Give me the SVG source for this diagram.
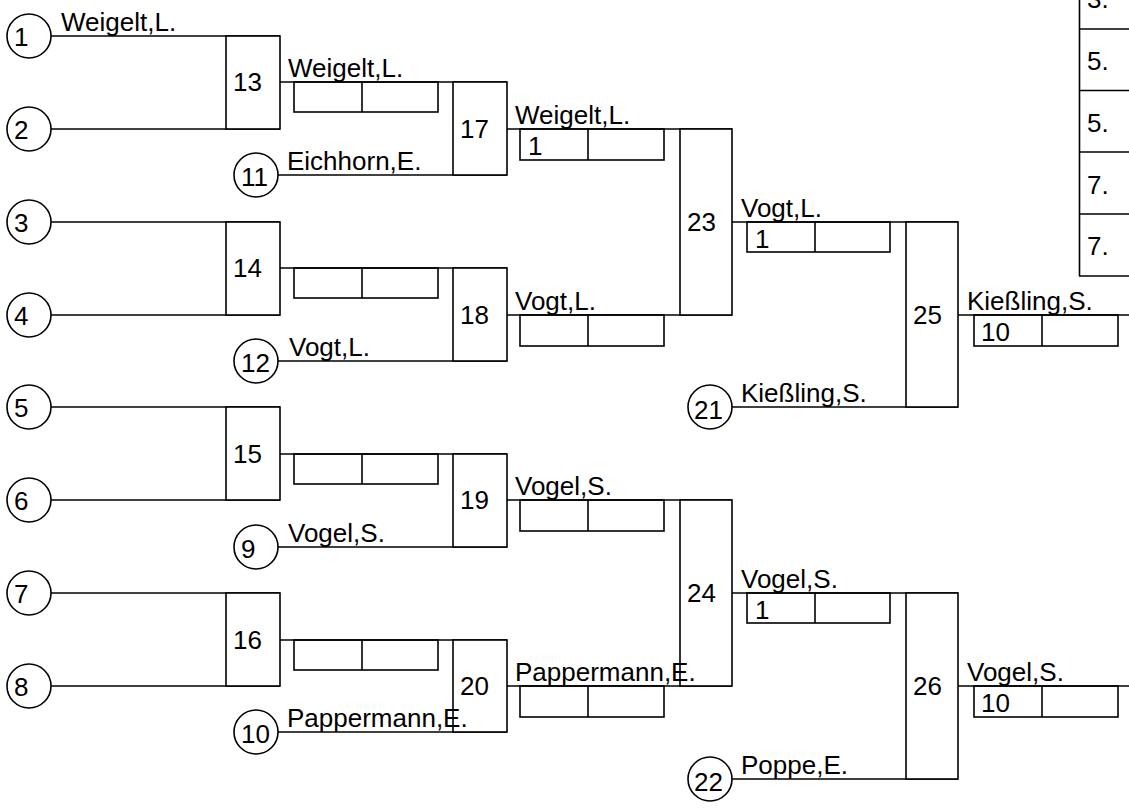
<svg xmlns="http://www.w3.org/2000/svg" width="1129" height="809" viewBox="0 0 1129 809">
<style>
  .ln { stroke: #000; stroke-width: 1.6; fill: none; }
  .bx { stroke: #000; stroke-width: 1.6; fill: #fff; }
  .sc { stroke: #000; stroke-width: 1.6; fill: none; }
  text { font-family: "Liberation Sans", Arial, sans-serif; font-size: 26px; fill: #000; }
</style>
<rect x="0" y="0" width="1129" height="809" fill="#fff"/>

<g id="connectors" class="ln">
  <!-- round 1 entry lines -->
  <line x1="51" y1="36" x2="280" y2="36"/>
  <line x1="51" y1="129" x2="280" y2="129"/>
  <line x1="51" y1="222" x2="280" y2="222"/>
  <line x1="51" y1="315" x2="280" y2="315"/>
  <line x1="51" y1="407" x2="280" y2="407"/>
  <line x1="51" y1="500" x2="280" y2="500"/>
  <line x1="51" y1="593" x2="280" y2="593"/>
  <line x1="51" y1="686" x2="280" y2="686"/>
  <!-- round 1 winners -->
  <line x1="280" y1="82" x2="507" y2="82"/>
  <line x1="280" y1="268" x2="507" y2="268"/>
  <line x1="280" y1="454" x2="507" y2="454"/>
  <line x1="280" y1="640" x2="507" y2="640"/>
  <!-- seeded entries round 2 -->
  <line x1="278" y1="175" x2="507" y2="175"/>
  <line x1="278" y1="361" x2="507" y2="361"/>
  <line x1="278" y1="547" x2="507" y2="547"/>
  <line x1="278" y1="732" x2="507" y2="732"/>
  <!-- round 2 winners -->
  <line x1="507" y1="129" x2="732" y2="129"/>
  <line x1="507" y1="315" x2="732" y2="315"/>
  <line x1="507" y1="500" x2="732" y2="500"/>
  <line x1="507" y1="686" x2="732" y2="686"/>
  <!-- round 3 winners -->
  <line x1="732" y1="222" x2="958" y2="222"/>
  <line x1="732" y1="593" x2="958" y2="593"/>
  <!-- seeded entries round 4 -->
  <line x1="732" y1="407" x2="958" y2="407"/>
  <line x1="732" y1="779" x2="958" y2="779"/>
  <!-- round 4 winners -->
  <line x1="958" y1="315" x2="1129" y2="315"/>
  <line x1="958" y1="686" x2="1129" y2="686"/>
</g>

<g id="seeds">
  <g id="seed-1"><circle class="bx" cx="29" cy="36" r="22"/><text x="14" y="46">1</text></g>
  <g id="seed-2"><circle class="bx" cx="29" cy="129" r="22"/><text x="14" y="139">2</text></g>
  <g id="seed-3"><circle class="bx" cx="29" cy="222" r="22"/><text x="14" y="232">3</text></g>
  <g id="seed-4"><circle class="bx" cx="29" cy="315" r="22"/><text x="14" y="325">4</text></g>
  <g id="seed-5"><circle class="bx" cx="29" cy="407" r="22"/><text x="14" y="417">5</text></g>
  <g id="seed-6"><circle class="bx" cx="29" cy="500" r="22"/><text x="14" y="510">6</text></g>
  <g id="seed-7"><circle class="bx" cx="29" cy="593" r="22"/><text x="14" y="603">7</text></g>
  <g id="seed-8"><circle class="bx" cx="29" cy="686" r="22"/><text x="14" y="696">8</text></g>
  <g id="seed-11"><circle class="bx" cx="256" cy="175" r="22"/><text x="241" y="186">11</text></g>
  <g id="seed-12"><circle class="bx" cx="256" cy="361" r="22"/><text x="241" y="372">12</text></g>
  <g id="seed-9"><circle class="bx" cx="256" cy="547" r="22"/><text x="241" y="558">9</text></g>
  <g id="seed-10"><circle class="bx" cx="256" cy="732" r="22"/><text x="241" y="743">10</text></g>
  <g id="seed-21"><circle class="bx" cx="710" cy="407" r="22"/><text x="694" y="419">21</text></g>
  <g id="seed-22"><circle class="bx" cx="710" cy="779" r="22"/><text x="694" y="791">22</text></g>
</g>

<g id="matches">
  <g id="match-13"><rect class="bx" x="226" y="36" width="54" height="93"/><text x="233" y="91">13</text></g>
  <g id="match-14"><rect class="bx" x="226" y="222" width="54" height="93"/><text x="233" y="277">14</text></g>
  <g id="match-15"><rect class="bx" x="226" y="407" width="54" height="93"/><text x="233" y="463">15</text></g>
  <g id="match-16"><rect class="bx" x="226" y="593" width="54" height="93"/><text x="233" y="649">16</text></g>
  <g id="match-17"><rect class="bx" x="453" y="82" width="54" height="93"/><text x="460" y="138">17</text></g>
  <g id="match-18"><rect class="bx" x="453" y="268" width="54" height="93"/><text x="460" y="324">18</text></g>
  <g id="match-19"><rect class="bx" x="453" y="454" width="54" height="93"/><text x="460" y="509">19</text></g>
  <g id="match-20"><rect class="bx" x="453" y="640" width="54" height="92"/><text x="460" y="695">20</text></g>
  <g id="match-23"><rect class="bx" x="680" y="129" width="52" height="186"/><text x="687" y="231">23</text></g>
  <g id="match-24"><rect class="bx" x="680" y="500" width="52" height="186"/><text x="687" y="602">24</text></g>
  <g id="match-25"><rect class="bx" x="906" y="222" width="52" height="185"/><text x="913" y="324">25</text></g>
  <g id="match-26"><rect class="bx" x="906" y="593" width="52" height="186"/><text x="913" y="695">26</text></g>
</g>

<g id="scores" class="sc">
  <g id="score-13"><rect x="294" y="82" width="144" height="30"/><line x1="362" y1="82" x2="362" y2="112"/></g>
  <g id="score-14"><rect x="294" y="268" width="144" height="30"/><line x1="362" y1="268" x2="362" y2="298"/></g>
  <g id="score-15"><rect x="294" y="454" width="144" height="30"/><line x1="362" y1="454" x2="362" y2="484"/></g>
  <g id="score-16"><rect x="294" y="640" width="144" height="30"/><line x1="362" y1="640" x2="362" y2="670"/></g>
  <g id="score-17"><rect x="520" y="129" width="144" height="31"/><line x1="588" y1="129" x2="588" y2="160"/></g>
  <g id="score-18"><rect x="520" y="315" width="144" height="31"/><line x1="588" y1="315" x2="588" y2="346"/></g>
  <g id="score-19"><rect x="520" y="500" width="144" height="31"/><line x1="588" y1="500" x2="588" y2="531"/></g>
  <g id="score-20"><rect x="520" y="686" width="144" height="31"/><line x1="588" y1="686" x2="588" y2="717"/></g>
  <g id="score-23"><rect x="747" y="222" width="143" height="30"/><line x1="815" y1="222" x2="815" y2="252"/></g>
  <g id="score-24"><rect x="747" y="593" width="143" height="30"/><line x1="815" y1="593" x2="815" y2="623"/></g>
  <g id="score-25"><rect x="974" y="315" width="144" height="31"/><line x1="1042" y1="315" x2="1042" y2="346"/></g>
  <g id="score-26"><rect x="974" y="686" width="144" height="31"/><line x1="1042" y1="686" x2="1042" y2="717"/></g>
</g>
<g id="score-values">
  <text x="528" y="155">1</text>
  <text x="755" y="248">1</text>
  <text x="755" y="619">1</text>
  <text x="981" y="341">10</text>
  <text x="981" y="712">10</text>
</g>

<g id="names">
  <text x="61" y="31">Weigelt,L.</text>
  <text x="288" y="77">Weigelt,L.</text>
  <text x="287" y="170">Eichhorn,E.</text>
  <text x="289" y="356">Vogt,L.</text>
  <text x="288" y="542">Vogel,S.</text>
  <text x="287" y="727">Pappermann,E.</text>
  <text x="515" y="124">Weigelt,L.</text>
  <text x="515" y="310">Vogt,L.</text>
  <text x="515" y="495">Vogel,S.</text>
  <text x="515" y="681">Pappermann,E.</text>
  <text x="741" y="217">Vogt,L.</text>
  <text x="741" y="402">Kießling,S.</text>
  <text x="741" y="588">Vogel,S.</text>
  <text x="741" y="774">Poppe,E.</text>
  <text x="967" y="310">Kießling,S.</text>
  <text x="967" y="681">Vogel,S.</text>
</g>

<g id="ranking">
  <g class="ln">
    <line x1="1079.5" y1="0" x2="1079.5" y2="276"/>
    <line x1="1079" y1="29" x2="1129" y2="29"/>
    <line x1="1079" y1="90.5" x2="1129" y2="90.5"/>
    <line x1="1079" y1="152" x2="1129" y2="152"/>
    <line x1="1079" y1="214" x2="1129" y2="214"/>
    <line x1="1079" y1="276" x2="1129" y2="276"/>
  </g>
  <text x="1087" y="8">3.</text>
  <text x="1087" y="70">5.</text>
  <text x="1087" y="132">5.</text>
  <text x="1087" y="194">7.</text>
  <text x="1087" y="255">7.</text>
</g>
</svg>
